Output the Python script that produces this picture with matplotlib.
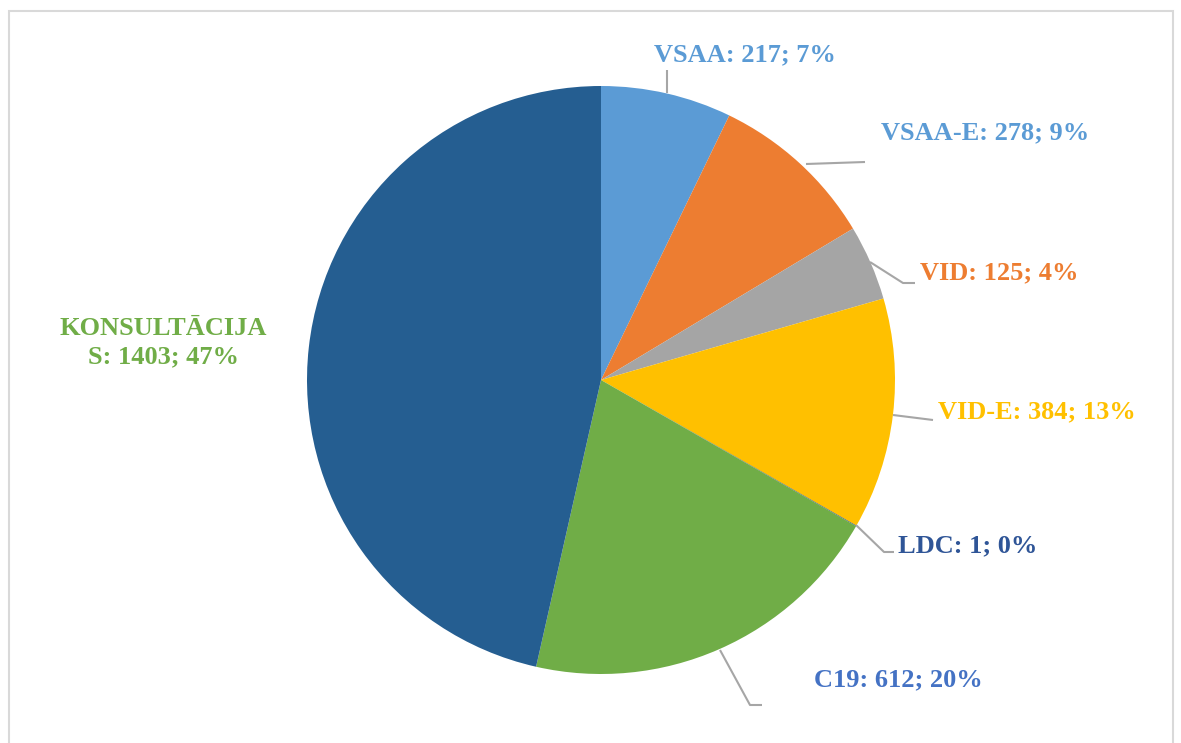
import numpy as np
import matplotlib.pyplot as plt
from matplotlib.patches import Rectangle

# data (clockwise from the top)
names = ['VSAA', 'VSAA-E', 'VID', 'VID-E', 'LDC', 'C19', 'KONSULTĀCIJAS']
values = [217, 278, 125, 384, 1, 612, 1403]
percents = [7, 9, 4, 13, 0, 20, 47]
wedge_colors = ['#5B9BD5', '#ED7D31', '#A5A5A5', '#FFC000', '#264478', '#70AD47', '#255E91']
label_colors = ['#5B9BD5', '#5B9BD5', '#ED7D31', '#FFC000', '#2F5597', '#4472C4', '#70AD47']

W, H = 1181, 743
fig = plt.figure(figsize=(W / 100, H / 100), dpi=100)
ax = fig.add_axes([0, 0, 1, 1])
ax.set_aspect('equal')

cx, cy, r = 601, H - 380, 294
wedges, _ = ax.pie(values, colors=wedge_colors, startangle=90, counterclock=False,
                   center=(cx, cy), radius=r, frame=True,
                   wedgeprops=dict(linewidth=0))
ax.set_xlim(0, W)
ax.set_ylim(0, H)
ax.axis('off')

# label placement (pixel coords, top-left origin): text anchor, leader line points
label_pos = [(745, 55, 'center'), (985, 133, 'center'), (920, 273, 'left'),
             (938, 412, 'left'), (898, 546, 'left'), (898, 680, 'center'),
             (163, 343, 'center')]
leaders = [[(667, 93), (667, 70)],
           [(806, 164), (865, 162)],
           [(870, 262), (903, 283), (915, 283)],
           [(893, 415), (933, 420)],
           [(856, 525), (884, 552), (894, 552)],
           [(720, 650), (750, 705), (762, 705)],
           None]

for i, name in enumerate(names):
    txt = f'{name}: {values[i]}; {percents[i]}%'
    if name == 'KONSULTĀCIJAS':
        # the label wraps inside the chart box
        txt = 'KONSULTĀCIJA\nS: 1403; 47%'
    x, y, ha = label_pos[i]
    ax.text(x, H - y, txt, ha=ha, va='center', color=label_colors[i],
            fontsize=19, fontweight='bold', family='Liberation Serif',
            linespacing=1.3)
    if leaders[i]:
        pts = np.array(leaders[i], dtype=float)
        ax.plot(pts[:, 0], H - pts[:, 1], color='#A6A6A6', lw=1.5,
                solid_capstyle='butt')

# chart frame
ax.add_patch(Rectangle((8.5, -5), 1164, H - 10.5 + 5, fill=False,
                       edgecolor='#D9D9D9', lw=1.5))

fig.savefig('out.png', dpi=100)
